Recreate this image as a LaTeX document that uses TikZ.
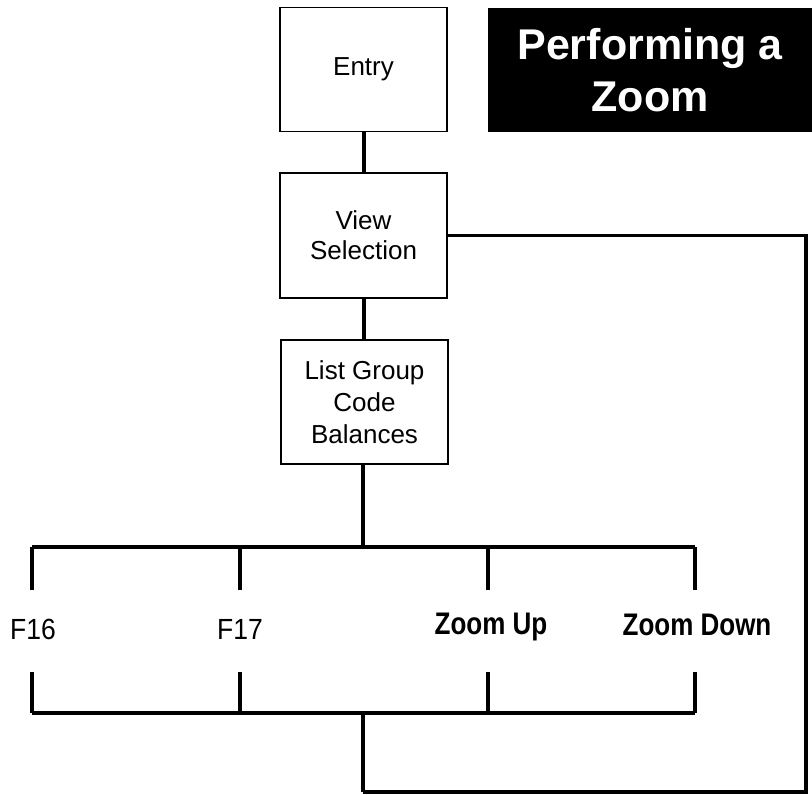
\documentclass[tikz,border=0pt]{standalone}
\usepackage{fontspec}
\setmainfont{Liberation Sans}
\begin{document}
\begin{tikzpicture}[x=1pt,y=-1pt,
  box/.style={draw, line width=1.8pt, minimum width=167pt, minimum height=124pt, inner sep=0pt, align=center, font=\fontsize{26}{30}\selectfont},
  conn/.style={line width=4pt},
  loop/.style={line width=3.2pt},
  lbl/.style={font=\fontsize{26.5}{30}\selectfont, inner sep=0pt, yscale=1.1},
  blbl/.style={font=\bfseries\fontsize{26}{30}\selectfont, inner sep=0pt, yscale=1.2},
  titlebox/.style={fill=black, text=white, minimum width=324pt, minimum height=124pt, inner sep=0pt, align=center, font=\bfseries\fontsize{43}{52}\selectfont}]
\useasboundingbox (0,0) rectangle (812,795);
% title
\node[titlebox] (title) at (650,70) {Performing a\\Zoom};
% boxes
\node[box] (entry) at (363.5,69.5) {Entry};
\node[box, minimum height=125pt] (view) at (363.5,235.5) {View\\Selection};
\node[box, font=\fontsize{26}{32}\selectfont] (list) at (364.5,402) {List Group\\Code\\Balances};
% bar coordinates
\coordinate (top) at (363,547);
\coordinate (tl) at (32,547);
\coordinate (tr) at (695,547);
\coordinate (t1) at (32,590);
\coordinate (t2) at (240,590);
\coordinate (t3) at (488,590);
\coordinate (t4) at (695,590);
\coordinate (b1) at (32,672);
\coordinate (b2) at (240,672);
\coordinate (b3) at (488,672);
\coordinate (b4) at (695,672);
\coordinate (bl) at (32,713);
\coordinate (br) at (695,713);
\coordinate (bot) at (363,713);
\coordinate (low) at (363,792);
\coordinate (corner) at (806,792);
\coordinate (rt) at (806,235.5);
% labels
\node[lbl] (f16) at (33,629) {F16};
\node[lbl] (f17) at (240,629) {F17};
\node[blbl] (zup) at (491,627) {Zoom Up};
\node[blbl] (zdown) at (697,625) {Zoom Down};
% connectors
\draw[conn] (entry.south) -- (view.north);
\draw[conn] (view.south) -- (list.north -| view.south);
\draw[conn] (list.south -| top) -- (top);
\draw[conn] (tl) -- (tr);
\draw[conn] (tl) -- (t1);
\draw[conn] (240,547) -- (t2);
\draw[conn] (488,547) -- (t3);
\draw[conn] (tr) -- (t4);
\draw[conn] (b1) -- (bl);
\draw[conn] (b2) -- (240,713);
\draw[conn] (b3) -- (488,713);
\draw[conn] (b4) -- (br);
\draw[conn] (bl) -- (br);
\draw[conn] (bot) -- (low);
\draw[loop] (low) -- (corner) -- (rt) -- (view.east);
\end{tikzpicture}
\end{document}
